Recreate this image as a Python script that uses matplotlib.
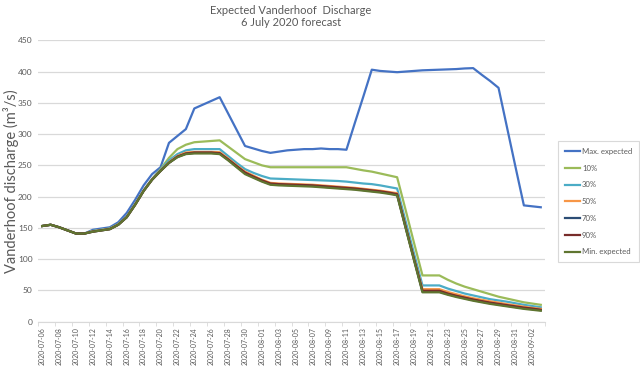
import numpy as np
import pandas as pd
import matplotlib
matplotlib.use('Agg')
import matplotlib.pyplot as plt
from matplotlib.ticker import MultipleLocator

plt.rcParams['font.family'] = ['Lato', 'DejaVu Sans']

# daily categories 2020-07-06 .. 2020-09-03
dates = pd.date_range('2020-07-06', '2020-09-03', freq='D').strftime('%Y-%m-%d').tolist()

max_expected = [153, 155, 151, 146, 141, 141, 147, 149, 151, 159,
                174, 195, 218, 236, 247, 286, 297, 308, 341, 347,
                353, 359, 333, 307, 281, 277, 273, 270, 272, 274,
                275, 276, 276, 277, 276, 276, 275, 318, 360, 403,
                401, 400, 399, 400, 401, 402, 402.5, 403, 403.5, 404,
                405, 405.5, 395, 385, 374, 311, 248, 186, 184.5, 183]
p10 = [153, 155, 151, 146, 141, 141, 145, 147, 149, 156,
       168, 188, 210, 228, 244, 262, 276, 283, 287, 288,
       289, 290, 280, 270, 260, 255, 250, 247, 247, 247,
       247, 247, 247, 247, 247, 247, 247, 244.5, 242, 240,
       237, 234, 231, 179, 126, 74, 74, 74, 67, 61,
       56, 52, 48, 44, 40, 37, 34, 31, 29, 27]
p30 = [153, 155, 151, 146, 141, 141, 145, 147, 149, 156,
       168, 188, 210, 228, 243, 258, 268, 274, 276, 276,
       276, 276, 265, 254, 244, 238, 233, 229, 228.5, 228,
       227.5, 227, 226.5, 226, 225.5, 225, 224, 222.5, 221, 220,
       218, 215.5, 213, 161, 109, 58, 58, 58, 53, 49,
       45, 42, 39, 36, 34, 32, 29.5, 27, 25, 23]
p50 = [153, 155, 151, 146, 141, 141, 144.5, 146.5, 148.5, 155.5,
       167.5, 187.5, 209.5, 227.5, 242, 255, 265, 270.5, 271.5, 271.5,
       271.5, 271, 261, 250, 240, 233.5, 227, 222, 221, 220.5,
       220, 219.5, 219, 218, 217, 216, 215, 214, 212.5, 211,
       209.5, 207.5, 205.5, 153, 101, 52, 52, 52, 47.5, 44,
       40.5, 37.5, 35, 32.5, 30.5, 28, 26, 24, 22, 20.5]
p70 = [153, 155, 151, 146, 141, 141, 144, 146, 148, 155,
       167, 187, 209, 227, 241, 254, 263.5, 268.5, 270, 270,
       270, 269, 259, 248, 237.5, 231, 225, 220, 219, 218.5,
       218, 217.5, 217, 216, 215, 214, 213, 212, 210.5, 209,
       207.5, 205.5, 203, 151, 99.5, 48, 48, 48, 44, 40.5,
       37.5, 34.5, 32, 29.5, 27.5, 25.5, 23.5, 21.5, 20, 18.5]
p90 = [153, 155, 151, 146, 141, 141, 144, 146, 148, 155,
       167, 187, 209, 227, 241, 254, 264, 269, 270.5, 270.5,
       270.5, 269.5, 259.5, 249, 238.5, 232, 226, 221, 220, 219.5,
       219, 218.5, 218, 217, 216, 215, 214, 213, 211.5, 210,
       208.5, 206.5, 204, 152, 100, 49.5, 49.5, 49.5, 45, 41.5,
       38.5, 35.5, 33, 30.5, 28.5, 26.5, 24.5, 22.5, 21, 19]
min_expected = [153, 155, 151, 146, 141, 141, 144, 146, 148, 155,
                167, 187, 209, 227, 241, 254, 263, 268, 269, 269,
                269, 268, 258, 247, 236, 230, 224, 219, 218, 217.5,
                217, 216.5, 216, 215, 214, 213, 212, 211, 209.5, 208,
                206.5, 204.5, 202, 150, 98, 47, 47, 47, 43, 39.5,
                36.5, 33.5, 31, 28.5, 26.5, 24.5, 22.5, 20.5, 19, 17.5]

series = [
    ('Max. expected', max_expected, '#4472C4'),
    ('10%', p10, '#9BBB59'),
    ('30%', p30, '#4BACC6'),
    ('50%', p50, '#F79646'),
    ('70%', p70, '#2C4D75'),
    ('90%', p90, '#772C2A'),
    ('Min. expected', min_expected, '#5F7530'),
]

grey = '#595959'
fig = plt.figure(figsize=(6.4, 3.83), dpi=100)
ax = fig.add_axes([38 / 640, 1 - 321.7 / 383, (545 - 38) / 640, (321.7 - 40.3) / 383])

x = np.arange(len(dates))
for name, vals, col in series:
    ax.plot(x, vals, '-', color=col, lw=1.6, label=name, solid_joinstyle='round')

ax.set_xlim(-0.5, len(dates) - 0.5)
ax.set_ylim(0, 450)
ax.yaxis.set_major_locator(MultipleLocator(50))
ax.grid(True, axis='y', color='#D9D9D9', lw=0.9)
ax.set_axisbelow(True)
for s in ['top', 'right', 'left']:
    ax.spines[s].set_visible(False)
ax.spines['bottom'].set_color('#D9D9D9')

ax.set_xticks(x[::2])
ax.set_xticklabels(dates[::2], rotation=90, fontsize=5, color=grey)
ax.set_xticks(np.arange(-0.5, len(dates), 2), minor=True)
ax.tick_params(axis='x', which='major', length=0, pad=4)
ax.tick_params(axis='x', which='minor', length=3, color='#D9D9D9')
ax.tick_params(axis='y', length=0, labelsize=6, labelcolor=grey, pad=4)

fig.text(11 / 640, 1 - 181 / 383, 'Vanderhoof discharge (m³/s)', rotation=90,
         ha='center', va='center', fontsize=10.5, color=grey)
fig.text(291 / 640, 1 - 10 / 383, 'Expected Vanderhoof  Discharge', ha='center',
         va='center', fontsize=8, color=grey)
fig.text(291 / 640, 1 - 23 / 383, '6 July 2020 forecast', ha='center',
         va='center', fontsize=8, color=grey)

leg = fig.legend(loc='upper left', bbox_to_anchor=(554 / 640, 1 - 137 / 383),
                 fontsize=5.6, labelspacing=1.25, handlelength=2.0, handletextpad=0.2,
                 borderpad=0.9, fancybox=False, edgecolor='#D9D9D9', framealpha=1)
for t in leg.get_texts():
    t.set_color(grey)
leg.get_frame().set_linewidth(0.8)

fig.savefig('out.png', dpi=100)
